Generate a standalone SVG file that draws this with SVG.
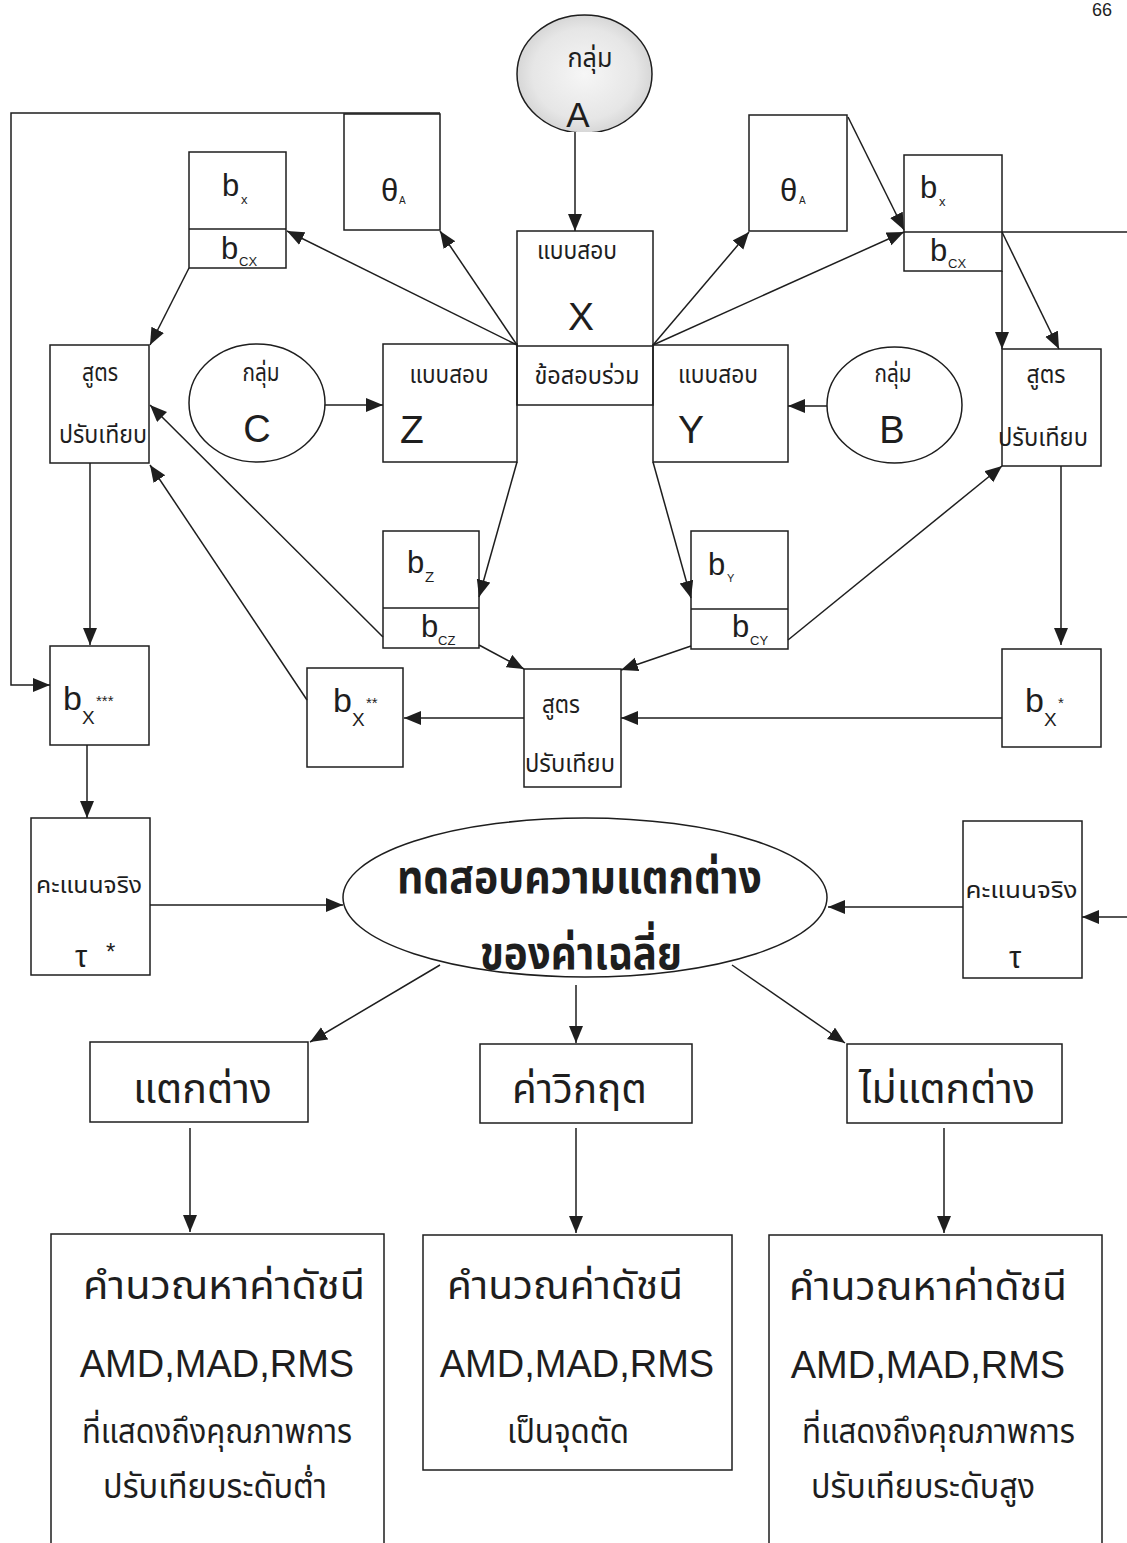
<svg xmlns="http://www.w3.org/2000/svg" width="1127" height="1543" viewBox="0 0 1127 1543">
<style>
.b{fill:none;stroke:#1e1e1e;stroke-width:1.5}
.l{fill:none;stroke:#1e1e1e;stroke-width:1.5}
.a{marker-end:url(#ah)}
.th{font-family:'Noto Sans Thai','Noto Sans','DejaVu Sans',sans-serif;fill:#1e1e1e}
.la{font-family:'Liberation Sans',Arial,sans-serif;fill:#1e1e1e}
.m{text-anchor:middle}
</style>
<defs>
<marker id="ah" markerUnits="userSpaceOnUse" markerWidth="18" markerHeight="15" refX="17" refY="7" orient="auto"><path d="M0,0 L17,7 L0,14 z" fill="#1e1e1e"/></marker>
<radialGradient id="ga" cx="50%" cy="50%" r="55%"><stop offset="0" stop-color="#f6f6f6"/><stop offset="0.7" stop-color="#e6e6e6"/><stop offset="1" stop-color="#d0d0d0"/></radialGradient>
<clipPath id="ca"><rect x="500" y="0" width="170" height="132"/></clipPath>
</defs>
<rect width="1127" height="1543" fill="#fff"/>
<text x="1092" y="16" class="la" font-size="18" fill="#555">66</text>

<g id="conn">
<line class="l a" x1="575" y1="132" x2="575" y2="231"/>
<line class="l a" x1="325" y1="405" x2="383" y2="405"/>
<line class="l a" x1="827" y1="406" x2="788" y2="406"/>
<line class="l a" x1="517" y1="345" x2="440" y2="231"/>
<line class="l a" x1="517" y1="345" x2="287" y2="231"/>
<line class="l a" x1="653" y1="345" x2="749" y2="232"/>
<line class="l a" x1="653" y1="345" x2="904" y2="232"/>
<line class="l a" x1="848" y1="117" x2="904" y2="230"/>
<line class="l a" x1="189" y1="268" x2="150" y2="345"/>
<line class="l a" x1="1002" y1="271" x2="1002" y2="349"/>
<line class="l a" x1="1002" y1="232" x2="1059" y2="349"/>
<line class="l" x1="1002" y1="232" x2="1127" y2="232"/>
<line class="l a" x1="517" y1="462" x2="479" y2="597"/>
<line class="l a" x1="653" y1="462" x2="691" y2="598"/>
<line class="l a" x1="383" y1="637" x2="150" y2="405"/>
<line class="l a" x1="307" y1="700" x2="150" y2="465"/>
<line class="l a" x1="479" y1="645" x2="524" y2="669"/>
<line class="l a" x1="691" y1="646" x2="621" y2="670"/>
<line class="l a" x1="788" y1="640" x2="1002" y2="466"/>
<line class="l a" x1="1061" y1="466" x2="1061" y2="645"/>
<line class="l a" x1="1002" y1="718" x2="621" y2="718"/>
<line class="l a" x1="524" y1="718" x2="404" y2="718"/>
<line class="l a" x1="90" y1="463" x2="90" y2="645"/>
<polyline class="l a" points="440,113 11,113 11,685 50,685"/>
<line class="l a" x1="87" y1="745" x2="87" y2="818"/>
<line class="l a" x1="150" y1="905" x2="343" y2="905"/>
<line class="l a" x1="963" y1="907" x2="828" y2="907"/>
<line class="l a" x1="1127" y1="917" x2="1082" y2="917"/>
<line class="l a" x1="440" y1="965" x2="310" y2="1042"/>
<line class="l a" x1="576" y1="985" x2="576" y2="1043"/>
<line class="l a" x1="732" y1="965" x2="845" y2="1043"/>
<line class="l a" x1="190" y1="1128" x2="190" y2="1232"/>
<line class="l a" x1="576" y1="1128" x2="576" y2="1233"/>
<line class="l a" x1="944" y1="1128" x2="944" y2="1233"/>
</g>

<g id="groupA">
<ellipse cx="584.5" cy="74" rx="67.5" ry="59" fill="url(#ga)" stroke="#1e1e1e" stroke-width="1.5" clip-path="url(#ca)"/>
<text x="590" y="67" class="th m" font-size="26" textLength="45" lengthAdjust="spacingAndGlyphs">กลุ่ม</text>
<text x="578" y="127" class="la m" font-size="35">A</text>
</g>
<g id="thetaL">
<rect class="b" x="344" y="114" width="96" height="116"/>
<text x="381" y="201" class="la" font-size="31">θ</text>
<text x="399" y="204" class="la" font-size="10">A</text>
</g>
<g id="thetaR">
<rect class="b" x="749" y="115" width="98" height="116"/>
<text x="780" y="201" class="la" font-size="31">θ</text>
<text x="799" y="204" class="la" font-size="10">A</text>
</g>
<g id="bxL">
<rect class="b" x="189" y="152" width="97" height="116"/>
<line class="l" x1="189" y1="229" x2="286" y2="229"/>
<text x="222" y="196" class="la" font-size="31">b</text>
<text x="241" y="204" class="la" font-size="13">x</text>
<text x="221" y="259" class="la" font-size="31">b</text>
<text x="239" y="266" class="la" font-size="13">CX</text>
</g>
<g id="bxR">
<rect class="b" x="904" y="155" width="98" height="116"/>
<line class="l" x1="904" y1="232" x2="1002" y2="232"/>
<text x="920" y="198" class="la" font-size="31">b</text>
<text x="939" y="206" class="la" font-size="13">x</text>
<text x="930" y="261" class="la" font-size="31">b</text>
<text x="948" y="268" class="la" font-size="13">CX</text>
</g>
<g id="testX">
<rect class="b" x="517" y="231" width="136" height="174"/>
<line class="l" x1="517" y1="346" x2="653" y2="346"/>
<text x="577" y="259" class="th m" font-size="24" textLength="80" lengthAdjust="spacingAndGlyphs">แบบสอบ</text>
<text x="581" y="330" class="la m" font-size="39">X</text>
<text x="587" y="384" class="th m" font-size="24" textLength="105" lengthAdjust="spacingAndGlyphs">ข้อสอบร่วม</text>
</g>
<g id="testZ">
<rect class="b" x="383" y="344" width="134" height="118"/>
<text x="449" y="383" class="th m" font-size="24" textLength="79" lengthAdjust="spacingAndGlyphs">แบบสอบ</text>
<text x="400" y="443" class="la" font-size="39">Z</text>
</g>
<g id="testY">
<rect class="b" x="653" y="345" width="135" height="117"/>
<text x="718" y="383" class="th m" font-size="24" textLength="80" lengthAdjust="spacingAndGlyphs">แบบสอบ</text>
<text x="678" y="443" class="la" font-size="39">Y</text>
</g>
<g id="groupC">
<ellipse cx="257" cy="403" rx="68" ry="59" class="b"/>
<text x="261" y="381" class="th m" font-size="24" textLength="37" lengthAdjust="spacingAndGlyphs">กลุ่ม</text>
<text x="257" y="442" class="la m" font-size="38">C</text>
</g>
<g id="groupB">
<ellipse cx="894.5" cy="405" rx="67.5" ry="58" class="b"/>
<text x="893" y="382" class="th m" font-size="24" textLength="37" lengthAdjust="spacingAndGlyphs">กลุ่ม</text>
<text x="892" y="443" class="la m" font-size="38">B</text>
</g>
<g id="formulaL">
<rect class="b" x="50" y="345" width="99" height="118"/>
<text x="100" y="381" class="th m" font-size="24" textLength="36" lengthAdjust="spacingAndGlyphs">สูตร</text>
<text x="103" y="443" class="th m" font-size="24" textLength="88" lengthAdjust="spacingAndGlyphs">ปรับเทียบ</text>
</g>
<g id="formulaR">
<rect class="b" x="1002" y="349" width="99" height="117"/>
<text x="1046" y="383" class="th m" font-size="24" textLength="39" lengthAdjust="spacingAndGlyphs">สูตร</text>
<text x="1043" y="446" class="th m" font-size="24" textLength="90" lengthAdjust="spacingAndGlyphs">ปรับเทียบ</text>
</g>
<g id="bZ">
<rect class="b" x="383" y="531" width="96" height="117"/>
<line class="l" x1="383" y1="608" x2="479" y2="608"/>
<text x="407" y="573" class="la" font-size="31">b</text>
<text x="425" y="582" class="la" font-size="15">Z</text>
<text x="421" y="637" class="la" font-size="31">b</text>
<text x="438" y="645" class="la" font-size="13">CZ</text>
</g>
<g id="bY">
<rect class="b" x="691" y="531" width="97" height="118"/>
<line class="l" x1="691" y1="609" x2="788" y2="609"/>
<text x="708" y="575" class="la" font-size="31">b</text>
<text x="727" y="582" class="la" font-size="11">Y</text>
<text x="732" y="637" class="la" font-size="31">b</text>
<text x="750" y="645" class="la" font-size="13">CY</text>
</g>
<g id="formulaC">
<rect class="b" x="524" y="669" width="97" height="118"/>
<text x="561" y="713" class="th m" font-size="24" textLength="38" lengthAdjust="spacingAndGlyphs">สูตร</text>
<text x="570" y="772" class="th m" font-size="24" textLength="90" lengthAdjust="spacingAndGlyphs">ปรับเทียบ</text>
</g>
<g id="bX2">
<rect class="b" x="307" y="668" width="96" height="99"/>
<text x="333" y="712" class="la" font-size="34">b</text>
<text x="352" y="726" class="la" font-size="19">X</text>
<text x="366" y="708" class="la" font-size="15">**</text>
</g>
<g id="bX1">
<rect class="b" x="1002" y="649" width="99" height="98"/>
<text x="1025" y="712" class="la" font-size="34">b</text>
<text x="1044" y="726" class="la" font-size="19">X</text>
<text x="1058" y="708" class="la" font-size="15">*</text>
</g>
<g id="bX3">
<rect class="b" x="50" y="646" width="99" height="99"/>
<text x="63" y="710" class="la" font-size="34">b</text>
<text x="82" y="724" class="la" font-size="19">X</text>
<text x="96" y="706" class="la" font-size="15">***</text>
</g>
<g id="trueL">
<rect class="b" x="31" y="818" width="119" height="157"/>
<text x="89" y="893" class="th m" font-size="23" textLength="106" lengthAdjust="spacingAndGlyphs">คะแนนจริง</text>
<text x="75" y="967" class="la" font-size="31">τ</text>
<text x="106" y="960" class="la" font-size="24">*</text>
</g>
<g id="trueR">
<rect class="b" x="963" y="821" width="119" height="157"/>
<text x="1021.5" y="898" class="th m" font-size="23" textLength="112" lengthAdjust="spacingAndGlyphs">คะแนนจริง</text>
<text x="1015" y="968" class="la m" font-size="31">τ</text>
</g>
<g id="test">
<ellipse cx="585" cy="897.5" rx="242" ry="79.5" class="b"/>
<text x="579.5" y="893" class="th m" font-size="46" font-weight="bold" textLength="365" lengthAdjust="spacingAndGlyphs">ทดสอบความแตกต่าง</text>
<text x="581" y="969" class="th m" font-size="46" font-weight="bold" textLength="202" lengthAdjust="spacingAndGlyphs">ของค่าเฉลี่ย</text>
</g>
<g id="diff">
<rect class="b" x="90" y="1042" width="218" height="80"/>
<text x="202.5" y="1103" class="th m" font-size="41" textLength="139" lengthAdjust="spacingAndGlyphs">แตกต่าง</text>
</g>
<g id="crit">
<rect class="b" x="480" y="1044" width="212" height="79"/>
<text x="579.5" y="1103" class="th m" font-size="41" textLength="135" lengthAdjust="spacingAndGlyphs">ค่าวิกฤต</text>
</g>
<g id="nodiff">
<rect class="b" x="847" y="1044" width="215" height="79"/>
<text x="947" y="1103" class="th m" font-size="41" textLength="176" lengthAdjust="spacingAndGlyphs">ไม่แตกต่าง</text>
</g>
<g id="resL">
<path class="b" d="M51,1560 V1234 H384 V1560"/>
<text x="224" y="1299" class="th m" font-size="40" textLength="282" lengthAdjust="spacingAndGlyphs">คำนวณหาค่าดัชนี</text>
<text x="217" y="1377" class="la m" font-size="38" fill="#333">AMD,MAD,RMS</text>
<text x="217" y="1443" class="th m" font-size="33" textLength="270" lengthAdjust="spacingAndGlyphs">ที่แสดงถึงคุณภาพการ</text>
<text x="215" y="1498" class="th m" font-size="33" textLength="224" lengthAdjust="spacingAndGlyphs">ปรับเทียบระดับต่ำ</text>
</g>
<g id="resC">
<rect class="b" x="423" y="1235" width="309" height="235"/>
<text x="565" y="1299" class="th m" font-size="40" textLength="236" lengthAdjust="spacingAndGlyphs">คำนวณค่าดัชนี</text>
<text x="577" y="1377" class="la m" font-size="38" fill="#333">AMD,MAD,RMS</text>
<text x="568" y="1443" class="th m" font-size="33" textLength="122" lengthAdjust="spacingAndGlyphs">เป็นจุดตัด</text>
</g>
<g id="resR">
<path class="b" d="M769,1560 V1235 H1102 V1560"/>
<text x="928" y="1300" class="th m" font-size="40" textLength="278" lengthAdjust="spacingAndGlyphs">คำนวณหาค่าดัชนี</text>
<text x="928" y="1378" class="la m" font-size="38" fill="#333">AMD,MAD,RMS</text>
<text x="938.5" y="1443" class="th m" font-size="33" textLength="273" lengthAdjust="spacingAndGlyphs">ที่แสดงถึงคุณภาพการ</text>
<text x="923" y="1498" class="th m" font-size="33" textLength="224" lengthAdjust="spacingAndGlyphs">ปรับเทียบระดับสูง</text>
</g>
</svg>
